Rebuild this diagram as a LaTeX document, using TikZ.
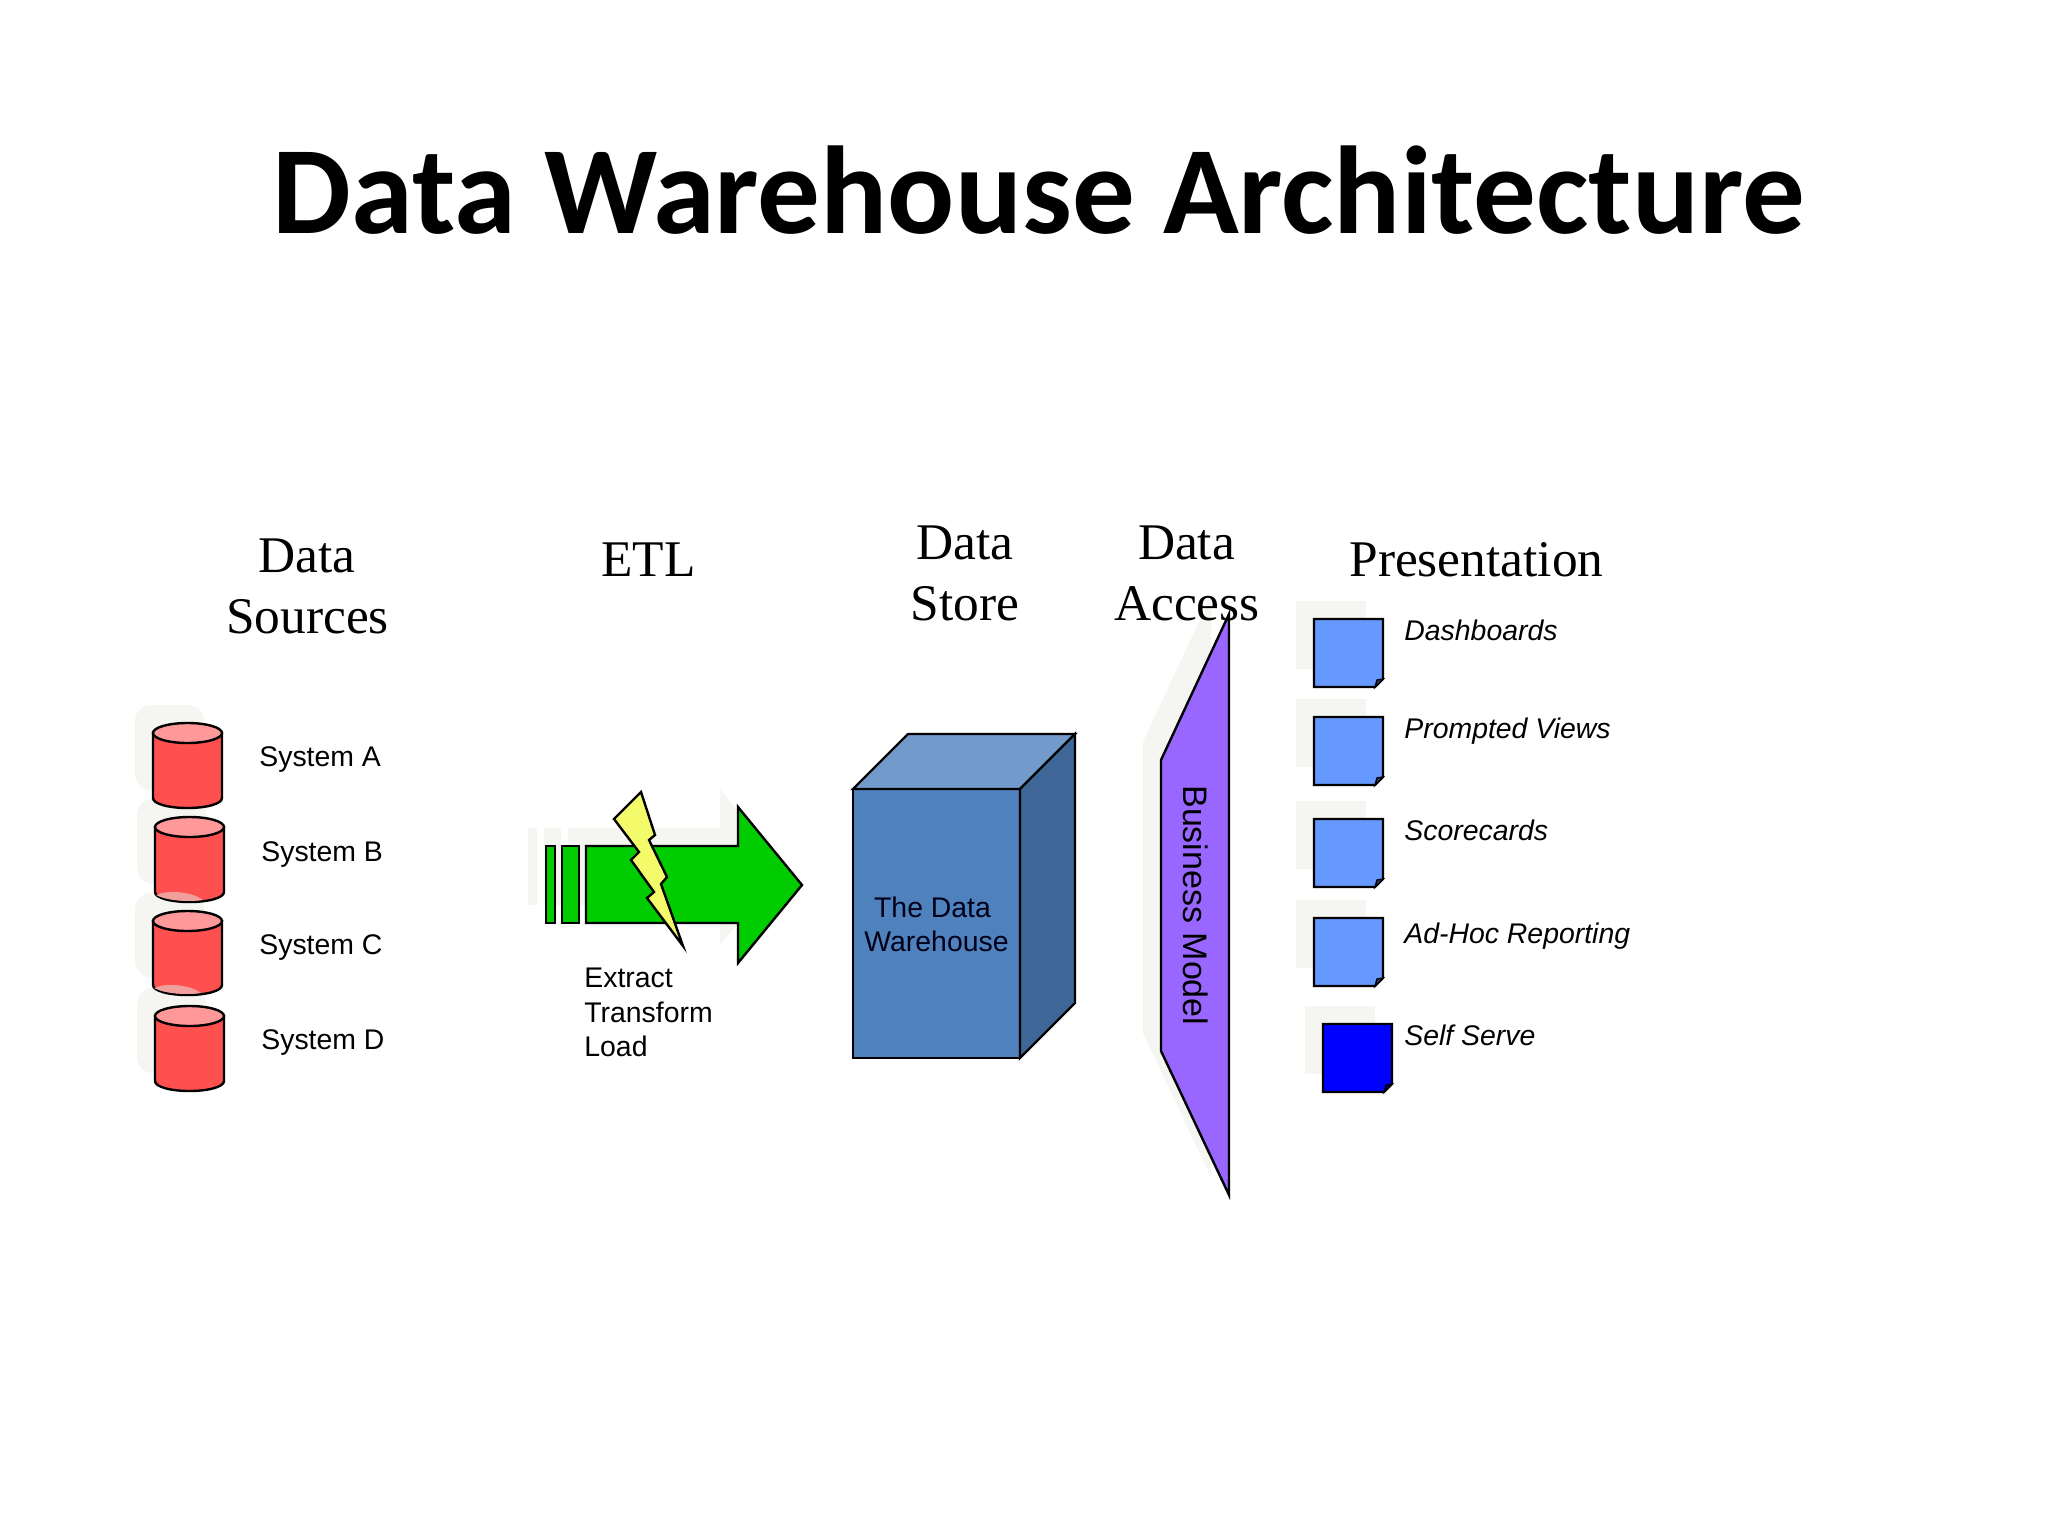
\documentclass[tikz,border=0pt]{standalone}
\usepackage{fontspec}
\setmainfont{Liberation Sans}
\newfontfamily\titlefont{Carlito}
\newfontfamily\headfont{Liberation Serif}
\definecolor{softshade}{HTML}{F5F5F1}
\definecolor{redbody}{HTML}{FF5050}
\definecolor{redtop}{HTML}{FF9999}
\definecolor{patchred}{HTML}{EFA09C}
\definecolor{arrowgreen}{HTML}{00CC00}
\definecolor{boltyellow}{HTML}{F4FB6A}
\definecolor{boxfront}{HTML}{4F81BD}
\definecolor{boxtop}{HTML}{729ACA}
\definecolor{boxside}{HTML}{3F6797}
\definecolor{purplefill}{HTML}{9966FF}
\definecolor{docblue}{HTML}{6699FF}
\definecolor{docdark}{HTML}{0000FF}
\tikzset{
  x=0.5pt,y=-0.5pt,
  outline/.style={draw=black,line width=1.2pt,line join=miter},
  shadowfill/.style={fill=softshade,draw=none},
  head/.style={font=\headfont\fontsize{25.7}{25.7}\selectfont,anchor=base,inner sep=0pt,text=black},
  label/.style={font=\fontsize{14.2}{14.2}\selectfont,anchor=base west,inner sep=0pt,text=black},
  ilabel/.style={font=\itshape\fontsize{14.2}{14.2}\selectfont,anchor=base west,inner sep=0pt,text=black},
  boxlabel/.style={font=\fontsize{14.2}{14.2}\selectfont,anchor=base,inner sep=0pt,text=black!90!blue},
}
% cylinder shadow: left x, top y, bottom y
\newcommand{\cylshadow}[3]{%
  \fill[softshade,rounded corners=8pt] (#1-18,#2-18) rectangle (#1+51,#3-18);
}
% cylinder: left x, top y, bottom y
\newcommand{\cylinderpic}[3]{%
  \draw[outline,fill=redbody] (#1,#2+10) -- (#1,#3-10) .. controls (#1,#3-4) and (#1+16,#3) .. (#1+34.5,#3) .. controls (#1+53,#3) and (#1+69,#3-4) .. (#1+69,#3-10) -- (#1+69,#2+10) -- cycle;
  \draw[outline,fill=redtop] (#1+34.5,#2+10) ellipse [x radius=34.5,y radius=10];
}
% light patch at the foot of a cylinder: left x, bottom y
\newcommand{\footpatch}[2]{%
  \fill[patchred] (#1+1,#2-7) .. controls (#1+12,#2-12) and (#1+36,#2-11) .. (#1+48,#2-2) .. controls (#1+34,#2) and (#1+12,#2-1) .. (#1+1,#2-7) -- cycle;
}
% doc: left x, top y, fill colour
\newcommand{\docpic}[3]{%
  \fill[softshade] (#1-18,#2-18) rectangle (#1+52,#2+50);
  \draw[outline,fill=#3] (#1,#2) -- (#1+69,#2) -- (#1+69,#2+60) -- (#1+61,#2+68) -- (#1,#2+68) -- cycle;
  \draw[outline,fill=#3!50!black,line width=0.7pt] (#1+61,#2+68) -- (#1+63,#2+61) -- (#1+69,#2+60) -- cycle;
}
\begin{document}
\begin{tikzpicture}
\useasboundingbox (0,0) rectangle (2048,1536);
\fill[white] (0,0) rectangle (2048,1536);

\node[font=\titlefont\bfseries\fontsize{62.5}{62.5}\selectfont,anchor=base,inner sep=0pt] (title) at (1039,233) {Data Warehouse Architecture};

% data sources
\cylshadow{153}{723}{808}
\cylshadow{155}{817}{902}
\cylshadow{153}{911}{995}
\cylshadow{155}{1006}{1091}
\cylinderpic{153}{723}{808}
\cylinderpic{155}{817}{902}
\cylinderpic{153}{911}{995}
\cylinderpic{155}{1006}{1091}
\footpatch{155}{902}
\footpatch{153}{995}
\node[label] (sysa) at (259,766.5) {System A};
\node[label] (sysb) at (261,861.5) {System B};
\node[label] (sysc) at (259,954.5) {System C};
\node[label] (sysd) at (261,1049) {System D};

% ETL shadow
\fill[shadowfill] (528,828) rectangle (537,905);
\fill[shadowfill] (544,828) rectangle (561,905);
\fill[shadowfill] (568,828) -- (720,828) -- (720,789) -- (784,867) -- (720,945) -- (720,905) -- (568,905) -- cycle;
% ETL arrow
\draw[outline,fill=arrowgreen] (546,846) rectangle (555,923);
\draw[outline,fill=arrowgreen] (562,846) rectangle (579,923);
\draw[outline,fill=arrowgreen] (586,846) -- (738,846) -- (738,807) -- (802,885) -- (738,963) -- (738,923) -- (586,923) -- cycle;
\draw[outline,fill=boltyellow] (641,792) -- (655,835) -- (649,840) -- (667,877) -- (661,884) -- (683,946) -- (647,898) -- (654,892) -- (631,860) -- (639,852) -- (614,819) -- cycle;
\node[label] (ext) at (584,987.5) {Extract};
\node[label] (tra) at (584,1022) {Transform};
\node[label] (loa) at (584,1056) {Load};

% warehouse
\draw[outline,fill=boxfront] (853,789) rectangle (1020,1058);
\draw[outline,fill=boxtop] (853,789) -- (908,734) -- (1075,734) -- (1020,789) -- cycle;
\draw[outline,fill=boxside] (1020,789) -- (1075,734) -- (1075,1003) -- (1020,1058) -- cycle;
\node[boxlabel] (wh1) at (932.5,917) {The Data};
\node[boxlabel] (wh2) at (936.5,951.5) {Warehouse};

% business model
\fill[shadowfill] (1211,596) -- (1143,742) -- (1143,1033) -- (1211,1177) -- cycle;
\draw[outline,fill=purplefill] (1229,614) -- (1161,760) -- (1161,1051) -- (1229,1195) -- cycle;
\node[font=\fontsize{17}{17}\selectfont,anchor=base west,inner sep=0pt,rotate=-90,text=black] (bm) at (1183,785) {Business Model};

% presentation
\docpic{1314}{619}{docblue}
\docpic{1314}{717}{docblue}
\docpic{1314}{819}{docblue}
\docpic{1314}{918}{docblue}
\docpic{1323}{1024}{docdark}
\node[ilabel] (d1) at (1404,640) {Dashboards};
\node[ilabel] (d2) at (1404,738) {Prompted Views};
\node[ilabel] (d3) at (1404,840) {Scorecards};
\node[ilabel] (d4) at (1404,943) {Ad-Hoc Reporting};
\node[ilabel] (d5) at (1404,1045) {Self Serve};

% headers
\node[head] (h1a) at (307,572.5) {Data};
\node[head] (h1b) at (307.5,633.5) {Sources};
\node[head] (h2) at (648.5,576) {ETL};
\node[head] (h3a) at (965,559) {Data};
\node[head] (h3b) at (965,620.5) {Store};
\node[head] (h4a) at (1186.5,559) {Data};
\node[head] (h4b) at (1187,620.5) {Access};
\node[head] (h5) at (1476.5,576) {Presentation};
\end{tikzpicture}
\end{document}
